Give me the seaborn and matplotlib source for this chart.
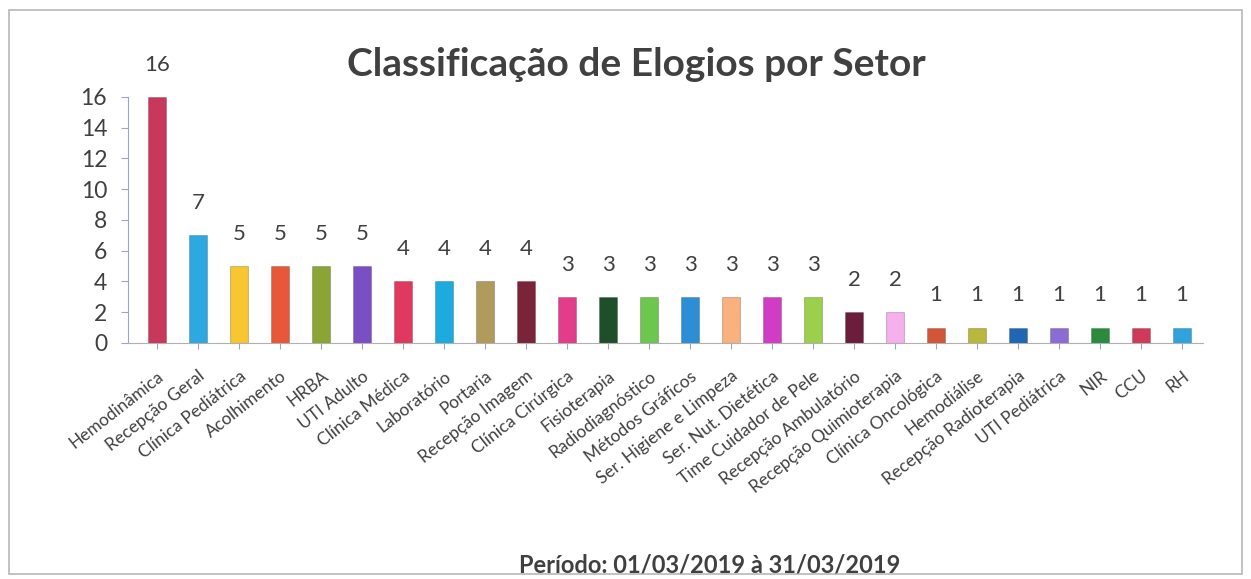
import pandas as pd
import seaborn as sns
import matplotlib.pyplot as plt
from matplotlib.patches import Rectangle

setores = ['Hemodinâmica', 'Recepção Geral', 'Clínica Pediátrica', 'Acolhimento', 'HRBA',
           'UTI Adulto', 'Clínica Médica', 'Laboratório', 'Portaria', 'Recepção Imagem',
           'Clínica Cirúrgica', 'Fisioterapia', 'Radiodiagnóstico', 'Métodos Gráficos',
           'Ser. Higiene e Limpeza', 'Ser. Nut. Dietética', 'Time Cuidador de Pele',
           'Recepção Ambulatório', 'Recepção Quimioterapia', 'Clínica Oncológica',
           'Hemodiálise', 'Recepção Radioterapia', 'UTI Pediátrica', 'NIR', 'CCU', 'RH']
elogios = [16, 7, 5, 5, 5, 5, 4, 4, 4, 4, 3, 3, 3, 3, 3, 3, 3, 2, 2, 1, 1, 1, 1, 1, 1, 1]
cores = ['#C8385A', '#2EA8E0', '#F7C631', '#E8573A', '#8AA436', '#7B4FC4', '#E0395F',
         '#1CAADF', '#B09A5C', '#7A2339', '#E33C8A', '#1F4F2A', '#6DC64D', '#2C8FD6',
         '#F9B27D', '#D13CC4', '#9CCF4C', '#6B1E3C', '#F5B0EE', '#D2553A', '#BAB83A',
         '#1F67B5', '#8A6CD4', '#2B8A3E', '#D03A5A', '#2EA3DE']

df = pd.DataFrame({'setor': setores, 'elogios': elogios})

sns.set_style('white')
plt.rcParams['font.family'] = ['Lato', 'DejaVu Sans']
texto = '#404040'

fig = plt.figure(figsize=(12.51, 5.79), dpi=100)
ax = fig.add_axes([0.1023, 0.4076, 0.859, 0.4249])

sns.barplot(data=df, x='setor', y='elogios', hue='setor', palette=cores, saturation=1,
            legend=False, width=0.44, ax=ax, edgecolor='#00000030', linewidth=0.8)

# rótulos de valor acima das barras
for i, v in enumerate(elogios):
    ax.text(i, v + 2.1, str(v), ha='center', va='center', fontsize=16, color=texto)

ax.set_ylim(0, 16)
ax.set_xlim(-0.71, len(setores) - 0.5)
ax.set_yticks(range(0, 17, 2))
ax.tick_params(axis='y', labelsize=16.5, labelcolor=texto, length=5, color='#9aa6c0',
               left=True, pad=10)
ax.tick_params(axis='x', length=4, color='#9aa6c0', bottom=True, pad=14)
ax.set_xticks(range(len(setores)))
ax.set_xticklabels(setores, rotation=38, ha='right', rotation_mode='anchor',
                   fontsize=12.5, color=texto)
ax.set_xlabel('')
ax.set_ylabel('')
for s in ['top', 'right']:
    ax.spines[s].set_visible(False)
ax.spines['left'].set_color('#9aa6c0')
ax.spines['bottom'].set_color('#b0b0b0')

fig.text(0.509, 0.888, 'Classificação de Elogios por Setor', ha='center', va='center',
         fontsize=28, fontweight='bold', color=texto)
fig.text(0.5675, 0.024, 'Período: 01/03/2019 à 31/03/2019', ha='center', va='center',
         fontsize=17, fontweight='bold', color=texto)

fig.patches.append(Rectangle((0.007, 0.008), 0.986, 0.975, transform=fig.transFigure,
                             fill=False, edgecolor='#b8b8b8', linewidth=1.2))

fig.savefig('out.png', dpi=100)
